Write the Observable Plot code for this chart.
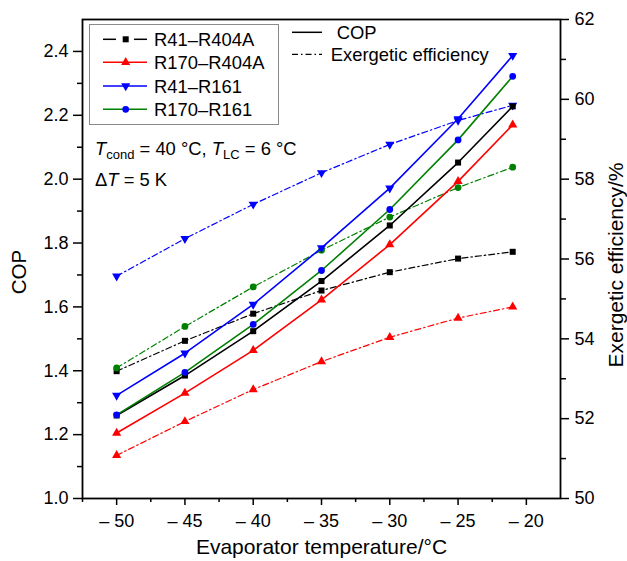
<!DOCTYPE html>
<html>
<head>
<meta charset="utf-8">
<script src="https://cdn.jsdelivr.net/npm/d3@7"></script>
<script src="https://cdn.jsdelivr.net/npm/@observablehq/plot@0.6"></script>
<style>
  body { margin: 0; background: #fff; }
  svg { display: block; }
</style>
</head>
<body>
<script>
// ---- data ----
const temps = [-50, -45, -40, -35, -30, -25, -21];
const seriesNames = ["R41–R404A", "R170–R404A", "R41–R161", "R170–R161"];
const seriesColors = ["#000000", "#ff0000", "#0000ff", "#008000"];
const copMarkerFill = ["#000000", "#ff0000", "#0000ff", "#0000ff"];
const exMarkerFill = ["#000000", "#ff0000", "#0000ff", "#008000"];
const seriesSymbols = ["square", "triangle", "triangle", "circle"];
const seriesRotate = [0, 0, 180, 0];

const copR41R404A  = [1.260, 1.385, 1.524, 1.681, 1.855, 2.052, 2.228];
const copR170R404A = [1.205, 1.330, 1.464, 1.622, 1.795, 1.993, 2.170];
const copR41R161   = [1.323, 1.455, 1.608, 1.785, 1.972, 2.189, 2.387];
const copR170R161  = [1.262, 1.395, 1.545, 1.714, 1.905, 2.123, 2.322];

const exR41R404A  = [53.19, 53.95, 54.63, 55.21, 55.67, 56.01, 56.18];
const exR170R404A = [51.08, 51.93, 52.73, 53.43, 54.04, 54.52, 54.80];
const exR41R161   = [55.57, 56.51, 57.37, 58.16, 58.87, 59.47, 59.85];
const exR170R161  = [53.27, 54.31, 55.30, 56.22, 57.05, 57.79, 58.30];

const xTicks = [-50, -45, -40, -35, -30, -25, -20];
const xMinor = [-52.5, -47.5, -42.5, -37.5, -32.5, -27.5, -22.5];
const copTicks = [1.0, 1.2, 1.4, 1.6, 1.8, 2.0, 2.2, 2.4];
const copMinor = [1.1, 1.3, 1.5, 1.7, 1.9, 2.1, 2.3];
const exTicks = [50, 52, 54, 56, 58, 60, 62];
const exMinor = [51, 53, 55, 57, 59, 61];

// secondary axis mapping: exergetic 50..62 <-> COP 1.0..2.5
const exToCop = e => 1 + (e - 50) / 8;
const copToEx = c => 50 + (c - 1) * 8;

const copSeries = [copR41R404A, copR170R404A, copR41R161, copR170R161];
const exSeries = [exR41R404A, exR170R404A, exR41R161, exR170R161];

const copRows = [];
const exRows = [];
seriesNames.forEach((name, i) => {
  temps.forEach((t, j) => {
    copRows.push({series: name, i, t, v: copSeries[i][j]});
    exRows.push({series: name, i, t, v: exToCop(exSeries[i][j]), ex: exSeries[i][j]});
  });
});

const marks = [];
const dashDot = "6,3,1.5,3";
seriesNames.forEach((name, i) => {
  const ex = exRows.filter(d => d.i === i);
  marks.push(Plot.line(ex, {x: "t", y: "v", stroke: seriesColors[i], strokeWidth: 1.2, strokeDasharray: dashDot}));
  marks.push(Plot.dot(ex, {x: "t", y: "v", symbol: () => seriesSymbols[i], fill: exMarkerFill[i], stroke: "none", r: 3.4, rotate: seriesRotate[i]}));
});
seriesNames.forEach((name, i) => {
  const cop = copRows.filter(d => d.i === i);
  marks.push(Plot.line(cop, {x: "t", y: "v", stroke: seriesColors[i], strokeWidth: 1.6}));
  marks.push(Plot.dot(cop, {x: "t", y: "v", symbol: () => seriesSymbols[i], fill: copMarkerFill[i], stroke: "none", r: 3.4, rotate: seriesRotate[i]}));
});

const noLabel = () => "";

const chart = Plot.plot({
  width: 627,
  height: 561,
  marginLeft: 82,
  marginRight: 67,
  marginTop: 19,
  marginBottom: 63,
  style: {fontFamily: "'Liberation Sans', Arial, sans-serif", fontSize: "18px", color: "#000", background: "#fff", overflow: "visible"},
  x: {domain: [-52.5, -17.5]},
  y: {domain: [1.0, 2.5]},
  symbol: {type: "identity"},
  marks: [
    ...marks,
    Plot.axisX(xTicks, {tickSize: 7, tickPadding: 9, strokeWidth: 1.5, tickFormat: d => "\u2013 " + Math.abs(d), label: null}),
    Plot.axisX(xMinor, {tickSize: 4, strokeWidth: 1.5, tickFormat: noLabel, label: null}),
    Plot.axisY(copTicks, {tickSize: 9, tickPadding: 5, strokeWidth: 1.5, tickFormat: d => d.toFixed(1), label: null}),
    Plot.axisY(copMinor, {tickSize: 5, strokeWidth: 1.5, tickFormat: noLabel, label: null}),
    Plot.axisY(exTicks.map(exToCop), {anchor: "right", tickSize: 8, tickPadding: 6, strokeWidth: 1.5, tickFormat: d => String(Math.round(copToEx(d))), label: null}),
    Plot.axisY(exMinor.map(exToCop), {anchor: "right", tickSize: 5, strokeWidth: 1.5, tickFormat: noLabel, label: null}),
    Plot.frame({stroke: "#000", strokeWidth: 1.8}),
    Plot.text(["COP"], {frameAnchor: "left", textAnchor: "middle", dx: -63, dy: 13, rotate: -90, text: d => d, fontSize: 20.5}),
    Plot.text(["Exergetic efficiency/%"], {frameAnchor: "right", textAnchor: "middle", dx: 56, dy: 6, rotate: -90, text: d => d, fontSize: 21}),
    Plot.text(["Evaporator temperature/°C"], {frameAnchor: "bottom", textAnchor: "middle", dy: 55, text: d => d, fontSize: 21})
  ]
});

document.body.appendChild(chart);

// ---- legends & annotation ----
const svg = d3.select(chart);
const g = svg.append("g")
  .attr("font-family", "'Liberation Sans', Arial, sans-serif")
  .attr("font-size", 18.4)
  .attr("text-anchor", "start")
  .attr("fill", "#000");

g.append("rect").attr("x", 89.5).attr("y", 24.5).attr("width", 189).attr("height", 100)
  .attr("fill", "#fff").attr("stroke", "#8a8a8a").attr("stroke-width", 1);

const rowY = [39.3, 62.3, 86, 109.3];
const symMap = {square: d3.symbolSquare, triangle: d3.symbolTriangle, circle: d3.symbolCircle};
seriesNames.forEach((name, i) => {
  const y = rowY[i];
  if (i === 0) {
    g.append("line").attr("x1", 103).attr("x2", 116).attr("y1", y).attr("y2", y).attr("stroke", seriesColors[i]).attr("stroke-width", 1.5);
    g.append("line").attr("x1", 134).attr("x2", 147).attr("y1", y).attr("y2", y).attr("stroke", seriesColors[i]).attr("stroke-width", 1.5);
  } else {
    g.append("line").attr("x1", 103).attr("x2", 147).attr("y1", y).attr("y2", y).attr("stroke", seriesColors[i]).attr("stroke-width", 1.5);
  }
  g.append("path")
    .attr("d", d3.symbol(symMap[seriesSymbols[i]], Math.PI * 3.4 * 3.4)())
    .attr("transform", `translate(125.7,${y}) rotate(${seriesRotate[i]})`)
    .attr("fill", copMarkerFill[i]);
  g.append("text").attr("x", 154).attr("y", y + 6.5).text(name);
});

g.append("line").attr("x1", 292).attr("x2", 322).attr("y1", 32.3).attr("y2", 32.3).attr("stroke", "#000").attr("stroke-width", 1.5);
g.append("text").attr("x", 336.7).attr("y", 39).text("COP");
g.append("line").attr("x1", 292).attr("x2", 322).attr("y1", 54.3).attr("y2", 54.3).attr("stroke", "#000").attr("stroke-width", 1.2).attr("stroke-dasharray", dashDot);
g.append("text").attr("x", 330.7).attr("y", 61).text("Exergetic efficiency");

const t1 = g.append("text").attr("x", 95).attr("y", 154.5);
t1.append("tspan").attr("font-style", "italic").text("T");
t1.append("tspan").attr("font-size", 13).attr("dy", 4).text("cond");
t1.append("tspan").attr("dy", -4).text(" = 40 °C, ");
t1.append("tspan").attr("font-style", "italic").text("T");
t1.append("tspan").attr("font-size", 13).attr("dy", 4).text("LC");
t1.append("tspan").attr("dy", -4).text(" = 6 °C");

const t2 = g.append("text").attr("x", 95).attr("y", 185.5);
t2.append("tspan").text("Δ");
t2.append("tspan").attr("font-style", "italic").text("T");
t2.append("tspan").text(" = 5 K");
</script>
</body>
</html>
